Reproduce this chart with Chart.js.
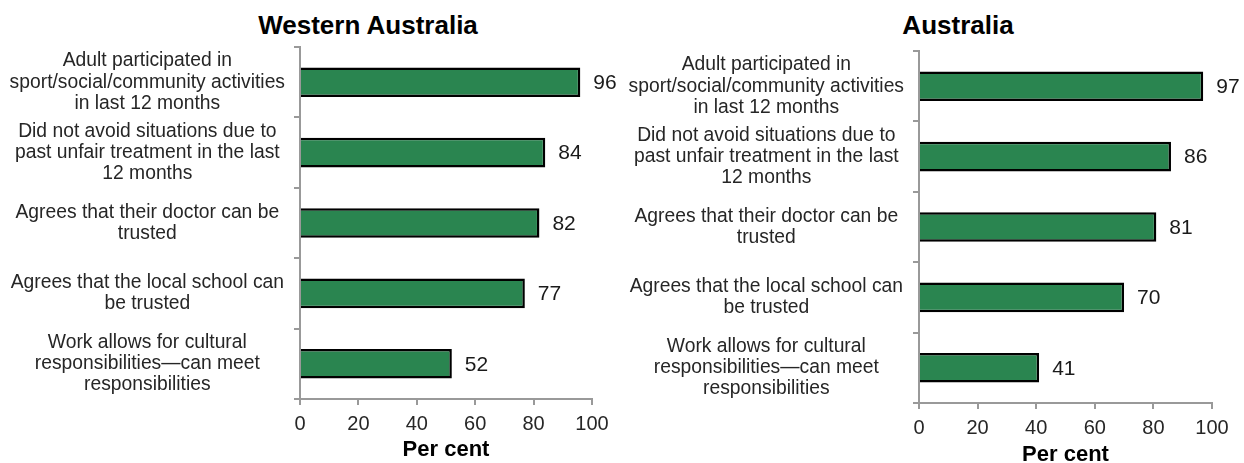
<!DOCTYPE html>
<html><head><meta charset="utf-8">
<script src="https://cdn.jsdelivr.net/npm/chart.js@4.4.1/dist/chart.umd.min.js"></script>
<style>
html,body{margin:0;padding:0;background:#fff;width:1244px;height:463px;overflow:hidden;position:relative;font-family:"Liberation Sans",Arial,sans-serif;}
canvas{position:absolute;top:0;}
.ttl{position:absolute;font-weight:bold;font-size:26px;line-height:30px;color:#000;white-space:nowrap;transform:translateX(-50%);top:10px;}
</style></head><body>
<div class="ttl" id="t1" style="left:368px"></div>
<div class="ttl" id="t2" style="left:958px"></div>
<canvas id="c1" width="620" height="463" style="left:0"></canvas>
<canvas id="c2" width="624" height="468" style="left:620px"></canvas>
<script>
const categories = [
  ["Adult participated in", "sport/social/community activities", "in last 12 months"],
  ["Did not avoid situations due to", "past unfair treatment in the last", "12 months"],
  ["Agrees that their doctor can be", "trusted"],
  ["Agrees that the local school can", "be trusted"],
  ["Work allows for cultural", "responsibilities\u2014can meet", "responsibilities"]
];
const waValues = [96, 84, 82, 77, 52];
const ausValues = [97, 86, 81, 70, 41];
const xTickValues = [0, 20, 40, 60, 80, 100];
const panelTitles = ["Western Australia", "Australia"];
const axisTitle = "Per cent";

document.getElementById('t1').textContent = panelTitles[0];
document.getElementById('t2').textContent = panelTitles[1];

const FAMILY = '"Liberation Sans", Arial, sans-serif';

const valueLabels = {
  id: 'valueLabels',
  afterDatasetsDraw(chart) {
    const ctx = chart.ctx;
    ctx.save();
    ctx.font = '21px ' + FAMILY;
    ctx.fillStyle = '#1a1a1a';
    ctx.textAlign = 'left';
    ctx.textBaseline = 'middle';
    const ds = chart.data.datasets[0];
    chart.getDatasetMeta(0).data.forEach((bar, i) => {
      ctx.fillText(String(ds.data[i]), bar.x + 13, bar.y + 1);
    });
    ctx.restore();
  }
};

function build(id, values, o) {
  return new Chart(document.getElementById(id), {
    type: 'bar',
    data: {
      labels: categories,
      datasets: [{
        data: values,
        backgroundColor: '#2a8550',
        borderColor: '#000',
        borderWidth: 2.5,
        barPercentage: 0.42,
        categoryPercentage: 1
      }]
    },
    options: {
      indexAxis: 'y',
      responsive: false,
      animation: false,
      layout: { padding: { top: o.top, right: o.right, left: 0, bottom: 0 } },
      plugins: { legend: { display: false }, tooltip: { enabled: false }, title: { display: false } },
      scales: {
        x: {
          min: 0, max: 100,
          afterBuildTicks(s) { s.ticks = xTickValues.map(v => ({ value: v })); },
          grid: { drawOnChartArea: false, drawTicks: true, tickLength: 6, color: '#999', lineWidth: 2 },
          border: { color: '#999', width: 2 },
          ticks: { font: { size: 20, family: FAMILY }, color: '#262626', padding: 7, maxRotation: 0 },
          title: { display: true, text: axisTitle, font: { size: 22, weight: 'bold', family: FAMILY }, color: '#000', padding: 0 },
          afterFit(s) { s.height = o.xh; }
        },
        y: {
          grid: { drawOnChartArea: false, tickLength: 6, color: '#999', lineWidth: 2, offset: true },
          border: { color: '#999', width: 2 },
          ticks: { font: { size: 19.3, family: FAMILY, lineHeight: 1.09 }, color: '#262626', crossAlign: 'center', padding: 9 },
          afterFit(s) { s.width = o.yw; }
        }
      }
    },
    plugins: [valueLabels]
  });
}

build('c1', waValues, { top: 47, right: 28, yw: 300, xh: 64 });
build('c2', ausValues, { top: 51, right: 32, yw: 299, xh: 65 });
</script>
</body></html>
